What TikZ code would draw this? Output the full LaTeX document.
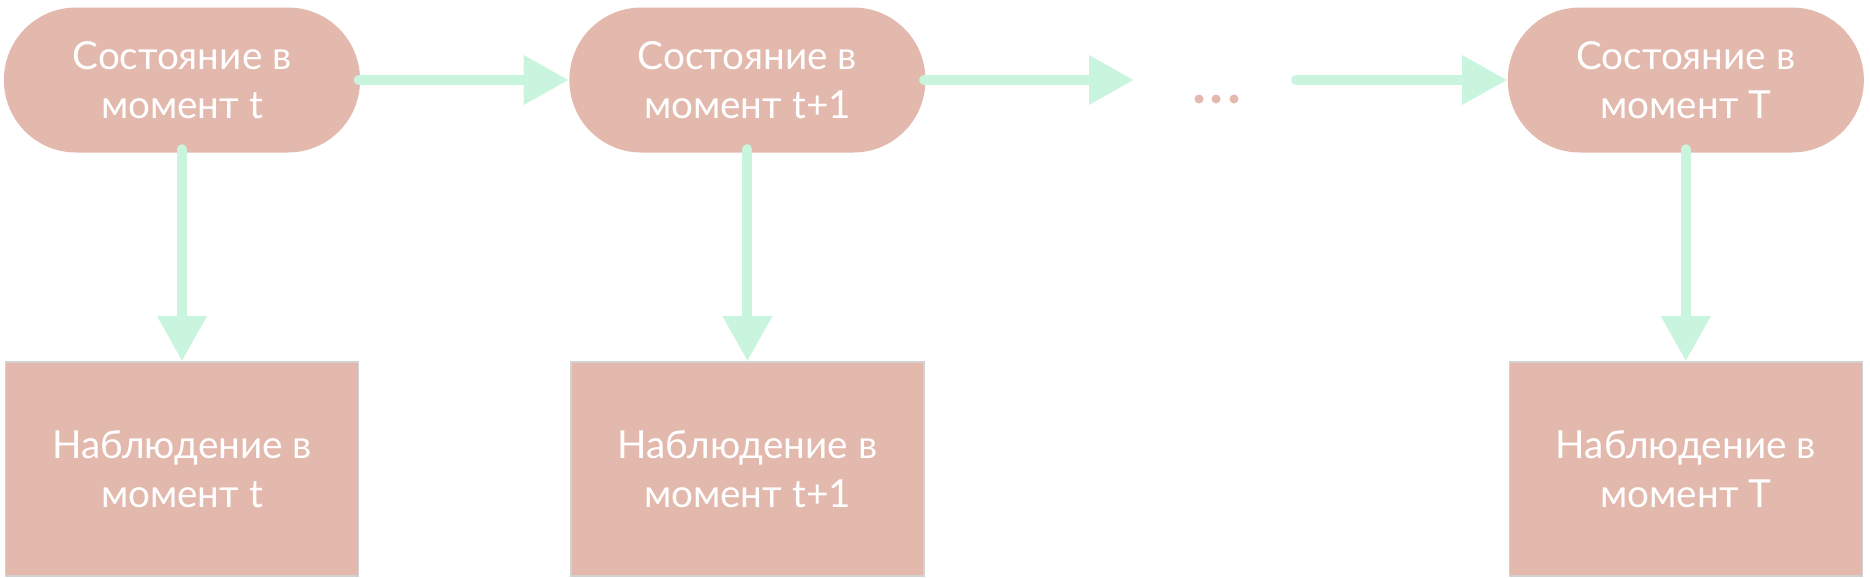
\documentclass[tikz,border=0pt]{standalone}
\usepackage{fontspec}
\setmainfont{Lato}
\usepackage{tikz}
\usetikzlibrary{arrows.meta}
\usetikzlibrary{positioning}
\usetikzlibrary{calc}
\definecolor{boxpink}{HTML}{E3B8AD}
\definecolor{mint}{HTML}{C9F5DE}
\tikzset{
	state/.style={fill=boxpink, rounded corners=7.2mm, minimum width=3.56cm, minimum height=1.45cm, text=white, align=center, font=\fontsize{11}{14}\selectfont},
	obs/.style={fill=boxpink, draw=gray!35, line width=0.4pt, minimum width=3.53cm, minimum height=2.14cm, text=white, align=center, font=\fontsize{11}{14}\selectfont},
	link/.style={draw=mint, line width=1mm, line cap=round, -{Triangle[length=4.5mm,width=4.7mm]}}
}

\begin{document}
\begin{tikzpicture}
	\useasboundingbox (0,0) rectangle (18.70,-5.77);
	% states
	\node[state] (s1) at (1.82,-0.80) {Состояние в\\момент t};
	\node[state, right=2.08cm of s1] (s2) {Состояние в\\момент t+1};
	\node[state, right=5.81cm of s2] (s3) {Состояние в\\момент T};
	% observations
	\node[obs, below=2.08cm of s1] (o1) {Наблюдение в\\момент t};
	\node[obs, below=2.08cm of s2] (o2) {Наблюдение в\\момент t+1};
	\node[obs, below=2.08cm of s3] (o3) {Наблюдение в\\момент T};
	% dots
	\fill[boxpink] (11.99,-0.99) circle[radius=0.45mm];
	\fill[boxpink] (12.16,-0.99) circle[radius=0.45mm];
	\fill[boxpink] (12.34,-0.99) circle[radius=0.45mm];
	\coordinate (d) at (12.96,-0.80);
	% arrows
	\draw[link] ([xshift=-0.2mm]s1.east) -- (s2.west);
	\draw[link] ([xshift=-0.2mm]s2.east) -- (11.34,-0.80);
	\draw[link] (d) -- (s3.west);
	\draw[link] ([yshift=0.4mm]s1.south) -- (o1.north);
	\draw[link] ([yshift=0.4mm]s2.south) -- (o2.north);
	\draw[link] ([yshift=0.4mm]s3.south) -- (o3.north);
\end{tikzpicture}
\end{document}
